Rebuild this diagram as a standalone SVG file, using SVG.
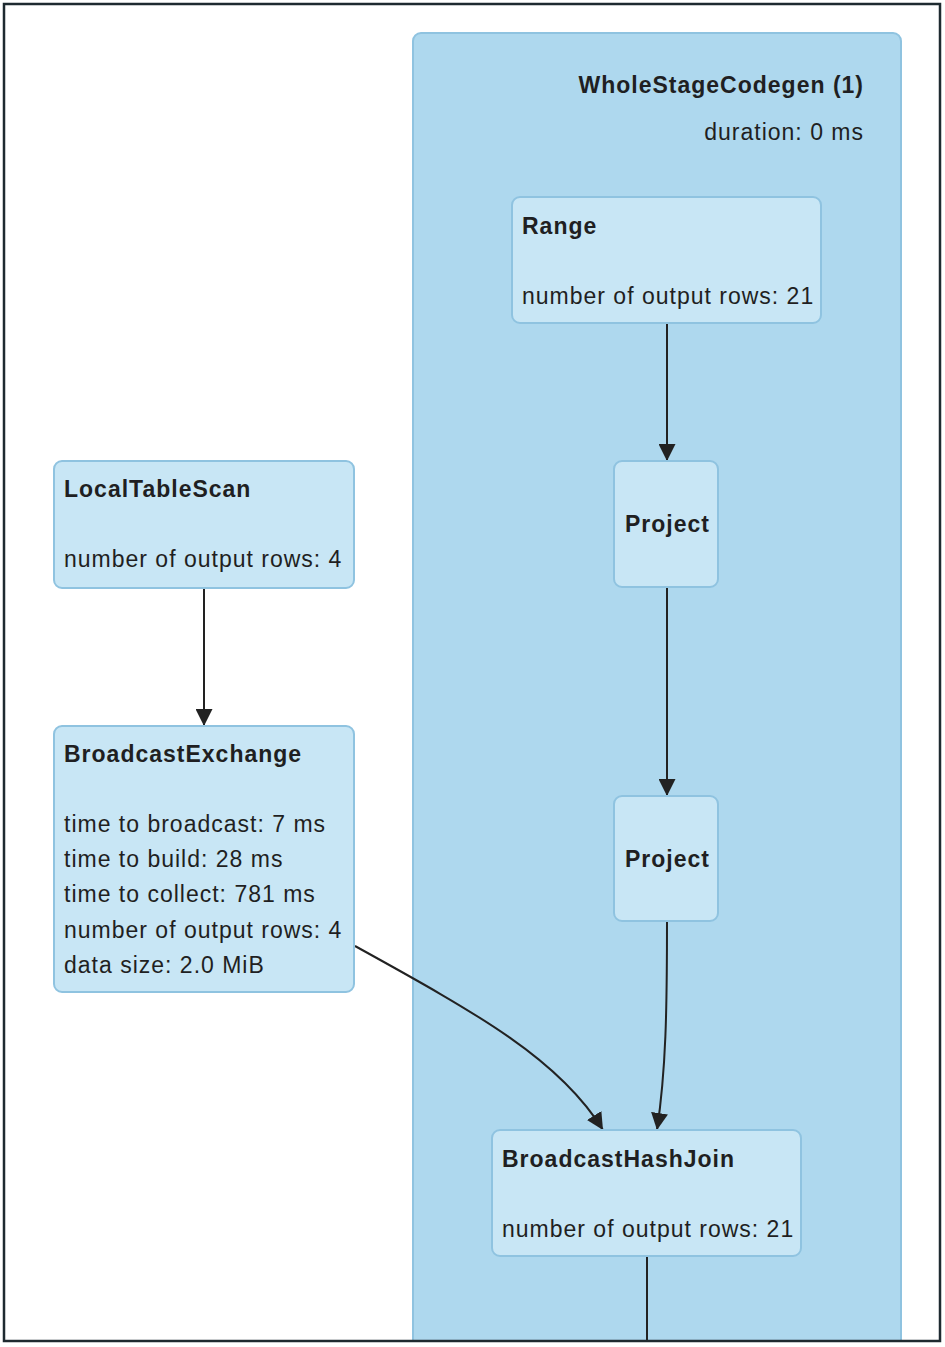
<svg xmlns="http://www.w3.org/2000/svg" width="945" height="1347" viewBox="0 0 945 1347">
<defs>
<style>
.cluster{fill:#aed8ee;stroke:#8fc3e0;stroke-width:2}
.node rect{fill:#c8e6f5;stroke:#8fc3e0;stroke-width:2}
.t{font-family:"Liberation Sans",Arial,sans-serif;font-size:23px;letter-spacing:1px;fill:#1f1f22}
.b{font-weight:bold}
.edge{fill:none;stroke:#222;stroke-width:2}
</style>
<marker id="arr" viewBox="0 0 10 10" refX="10" refY="5" markerWidth="8.5" markerHeight="8.5" markerUnits="strokeWidth" orient="auto">
<path d="M0,0 L10,5 L0,10 z" fill="#222"/>
</marker>
<clipPath id="frame"><rect x="4" y="4" width="936" height="1337"/></clipPath>
</defs>
<rect x="0" y="0" width="945" height="1347" fill="#fff"/>
<g clip-path="url(#frame)">
<g id="cluster-wsc">
<rect class="cluster" x="413" y="33" width="488" height="1340" rx="8"/>
<text class="t b" x="864" y="93" text-anchor="end">WholeStageCodegen (1)</text>
<text class="t" x="864" y="140" text-anchor="end">duration: 0 ms</text>
</g>
<g id="edges">
<path class="edge" d="M667,323 L667,461" marker-end="url(#arr)"/>
<path class="edge" d="M667,587 L667,796" marker-end="url(#arr)"/>
<path class="edge" d="M204,588 L204,726" marker-end="url(#arr)"/>
<path class="edge" d="M355,946 C480,1015 560,1060 603,1130" marker-end="url(#arr)"/>
<path class="edge" d="M667,921 C667,1010 666,1070 657,1130" marker-end="url(#arr)"/>
<path class="edge" d="M647,1256 L647,1347"/>
</g>
<g id="node-range" class="node">
<rect x="512" y="197" width="309" height="126" rx="8"/>
<text class="t b" x="522" y="234">Range</text>
<text class="t" x="522" y="304">number of output rows: 21</text>
</g>
<g id="node-project1" class="node">
<rect x="614" y="461" width="104" height="126" rx="8"/>
<text class="t b" x="667.5" y="532" text-anchor="middle">Project</text>
</g>
<g id="node-project2" class="node">
<rect x="614" y="796" width="104" height="125" rx="8"/>
<text class="t b" x="667.5" y="867" text-anchor="middle">Project</text>
</g>
<g id="node-localtablescan" class="node">
<rect x="54" y="461" width="300" height="127" rx="8"/>
<text class="t b" x="64" y="497">LocalTableScan</text>
<text class="t" x="64" y="567">number of output rows: 4</text>
</g>
<g id="node-broadcastexchange" class="node">
<rect x="54" y="726" width="300" height="266" rx="8"/>
<text class="t b" x="64" y="762">BroadcastExchange</text>
<text class="t" x="64" y="832">time to broadcast: 7 ms</text>
<text class="t" x="64" y="867">time to build: 28 ms</text>
<text class="t" x="64" y="902">time to collect: 781 ms</text>
<text class="t" x="64" y="938">number of output rows: 4</text>
<text class="t" x="64" y="973">data size: 2.0 MiB</text>
</g>
<g id="node-broadcasthashjoin" class="node">
<rect x="492" y="1130" width="309" height="126" rx="8"/>
<text class="t b" x="502" y="1167">BroadcastHashJoin</text>
<text class="t" x="502" y="1237">number of output rows: 21</text>
</g>
</g>
<rect x="4" y="4" width="936" height="1337" fill="none" stroke="#1e2a30" stroke-width="2.5"/>
</svg>
